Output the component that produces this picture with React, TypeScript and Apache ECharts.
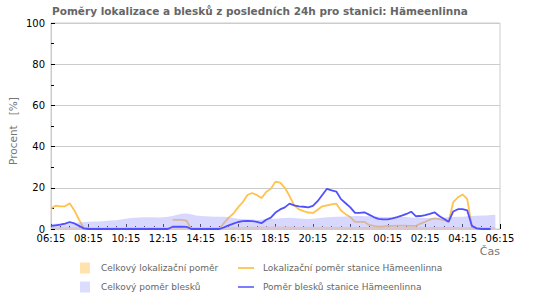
import React, { useEffect, useRef } from "react";
import * as echarts from "echarts";

const FONT = "DejaVu Sans";
const TITLE = "Poměry lokalizace a blesků z posledních 24h pro stanici: Hämeenlinna";

// hours after 06:15, one point every 15 minutes (06:15 ... 06:15 next day)
const STEP_H = 0.25;
const X_TICK_LABELS = ["06:15", "08:15", "10:15", "12:15", "14:15", "16:15", "18:15", "20:15", "22:15", "00:15", "02:15", "04:15", "06:15"];
const Y_TICKS = [0, 20, 40, 60, 80, 100];

const SERIES_NAMES = [
  "Celkový lokalizační poměr",
  "Lokalizační poměr stanice Hämeenlinna",
  "Celkový poměr blesků",
  "Poměr blesků stanice Hämeenlinna",
];

// Celkový lokalizační poměr (total localization ratio)
const totalLoc: (number | null)[] = [
  0.9, 0.9, 0.9, 0.9, 0.9, 0.9, 0.9, 0.9, 0.9, 0.9, 0.9, 0.9, 0.9, 0.9, 0.9, 0.9,
  1.0, 1.0, 1.0, 1.0, 1.0, 1.0, 1.0, 1.0, 1.0, 1.0, 1.1, 1.1, 1.1, 1.1, 1.0, 1.0,
  1.0, 1.0, 1.0, 1.0, 1.0, 1.1, 1.1, 1.1, 1.1, 1.1, 1.1, 1.1, 1.1, 1.2, 1.2, 1.2,
  1.2, 1.2, 1.2, 1.2, 1.1, 1.1, 1.1, 1.1, 1.1, 1.1, 1.1, 1.1, 1.1, 1.1, 1.1, 1.1,
  1.1, 1.0, 1.0, 1.0, 1.0, 1.0, 1.0, 1.0, 1.0, 1.0, 1.0, 1.0, 1.0, 1.0, 1.0, 1.0,
  1.0, 1.0, 1.0, 1.0, 1.0, 1.0, 1.0, 1.0, 1.0, 1.0, 1.0, 1.0, 1.0, 1.0, 1.0, 1.0, null,
];

// Lokalizační poměr stanice Hämeenlinna (station localization ratio)
const stationLoc: (number | null)[] = [
  10, 11.3, 11, 11, 12.5, 9, 4.5, 0.5, 0,
  null, null, null, null, null, null, null, null, null, null, null, null, null, null, null, null, null,
  4.4, 4.4, 4.4, 4.0, 0, 0, 0, 0, 0, 0, 0,
  3, 5.5, 7.5, 10.5, 13, 16.5, 17.5, 16.5, 15, 18, 19.5, 23, 22.5, 20, 16, 11.5,
  9.5, 8.7, 8, 7.8, 9.3, 11, 11.5, 12, 12.3, 9, 7.2, 5.8, 3.5, 3.5, 3.5, 2,
  1.5, 1.1, 1.3, 1.5, 1.5, 1.6, 1.6, 1.6, 1.5, 1.5, 2.6, 3.5, 4.5, 5.2, 4.8, 4.3,
  3.5, 13, 15.4, 16.8, 14.5, 1, 0.3, 0, 0, 0, null, null,
];

// Celkový poměr blesků (total lightning ratio)
const totalLightning: (number | null)[] = [
  2.4, 2.5, 2.7, 2.9, 3.0, 3.1, 3.2, 3.4, 3.5, 3.6, 3.7, 3.8, 4.0, 4.1, 4.3, 4.6,
  5.0, 5.3, 5.5, 5.6, 5.7, 5.7, 5.7, 5.6, 5.7, 5.9, 6.3, 6.9, 7.4, 7.5, 7.1, 6.6,
  6.3, 6.2, 6.1, 6.0, 6.0, 5.9, 5.7, 5.3, 5.0, 4.8, 4.7, 4.6, 4.4, 4.5, 4.7, 4.9,
  5.0, 5.2, 5.3, 5.5, 5.4, 5.1, 5.0, 4.9, 5.0, 5.2, 5.5, 5.7, 5.8, 6.0, 6.0, 6.1,
  6.2, 6.3, 6.3, 6.2, 6.2, 6.0, 5.9, 5.8, 5.8, 5.7, 5.7, 5.8, 5.8, 5.6, 5.5, 5.4,
  5.3, 5.4, 5.5, 5.6, 5.6, 5.7, 5.8, 5.9, 6.0, 6.2, 6.3, 6.4, 6.5, 6.6, 6.8, 6.9, null,
];

// Poměr blesků stanice Hämeenlinna (station lightning ratio)
const stationLightning: (number | null)[] = [
  1.5, 1.8, 2.1, 2.6, 3.4, 2.7, 1.5, 0.3, 0,
  0, 0, 0, 0, 0, 0, 0, 0, 0, 0, 0, 0, 0, 0, 0, 0, 0,
  1.1, 1.1, 1.1, 1.0, 0, 0, 0, 0, 0, 0, 0,
  0.8, 1.8, 2.6, 3.4, 3.8, 3.9, 3.8, 3.5, 2.8, 4.5, 5.5, 8, 9.5, 10.5, 12.3, 11.5,
  11, 10.8, 10.5, 11.2, 13.5, 16.5, 19.5, 18.8, 18.2, 14.5, 12.5, 10.5, 7.8, 7.8, 8.1, 7,
  5.8, 4.9, 4.7, 4.7, 5.2, 5.8, 6.5, 7.3, 8.4, 6.2, 6.3, 6.7, 7.3, 8.1, 6.3, 5,
  3.5, 8.5, 9.6, 9.6, 9, 1.5, 0.3, 0, 0, 0, null, null,
];

const toPairs = (vals: (number | null)[]) => vals.map((v, i) => [i * STEP_H, v]);

export default function App() {
  const ref = useRef<HTMLDivElement>(null);
  useEffect(() => {
    if (!ref.current) return;
    const chart = echarts.init(ref.current, null, { renderer: "svg" });
    const legendText = { fontFamily: FONT, fontSize: 9, color: "#666", lineHeight: 12 };
    chart.setOption({
      animation: false,
      backgroundColor: "#fff",
      textStyle: { fontFamily: FONT },
      title: {
        text: TITLE,
        left: 52,
        top: 5,
        padding: 0,
        textStyle: { fontFamily: FONT, fontSize: 10.5, fontWeight: "bold", color: "#666" },
      },
      grid: {
        left: 51,
        right: 50,
        top: 23,
        bottom: 71,
        show: true,
        borderColor: "#cccccc",
        borderWidth: 1,
        containLabel: false,
        outerBoundsMode: "none",
      },
      legend: [
        {
          orient: "vertical",
          left: 80,
          top: 262,
          padding: 0,
          itemWidth: 10,
          itemHeight: 11,
          itemGap: 7,
          icon: "rect",
          data: [
            { name: SERIES_NAMES[0], itemStyle: { color: "#ffe2ae" } },
            { name: SERIES_NAMES[2], itemStyle: { color: "#dcdcff" } },
          ],
          textStyle: { ...legendText, padding: [0, 0, 0, 6] },
          selectedMode: false,
        },
        {
          orient: "vertical",
          left: 238,
          top: 262,
          padding: 0,
          itemWidth: 16,
          itemHeight: 2,
          itemGap: 7,
          icon: "rect",
          data: [
            { name: SERIES_NAMES[1], itemStyle: { color: "#ffc861" } },
            { name: SERIES_NAMES[3], itemStyle: { color: "#7c7cff" } },
          ],
          textStyle: { ...legendText, padding: [0, 0, 0, 4] },
          selectedMode: false,
        },
      ],
      xAxis: {
        type: "value",
        min: 0,
        max: 24,
        interval: 2,
        axisLine: { show: true, onZero: false, lineStyle: { color: "#cccccc" } },
        axisTick: { show: true, inside: true, length: 5, lineStyle: { color: "#000" } },
        minorTick: { show: true, splitNumber: 4, length: 3, lineStyle: { color: "#000" } },
        splitLine: { show: false },
        axisLabel: {
          color: "#000",
          fontFamily: FONT,
          fontSize: 10,
          margin: 4,
          formatter: (v: number) => X_TICK_LABELS[Math.round(v / 2)] ?? "",
        },
      },
      yAxis: {
        type: "value",
        min: Y_TICKS[0],
        max: Y_TICKS[Y_TICKS.length - 1],
        interval: 20,
        axisLine: { show: true, lineStyle: { color: "#cccccc" } },
        axisTick: { show: true, inside: true, length: 4, lineStyle: { color: "#000" } },
        minorTick: { show: true, splitNumber: 2, length: 3, lineStyle: { color: "#000" } },
        splitLine: { show: true, lineStyle: { color: "#cccccc" } },
        axisLabel: { color: "#000", fontFamily: FONT, fontSize: 10, margin: 6 },
      },
      graphic: [
        {
          type: "text",
          x: 13,
          y: 131,
          rotation: Math.PI / 2,
          style: {
            text: "Procent   [%]",
            fontFamily: FONT,
            fontSize: 10.5,
            fill: "#777",
            align: "center",
            verticalAlign: "middle",
          },
        },
        {
          type: "text",
          x: 500,
          y: 251,
          style: {
            text: "Čas",
            fontFamily: FONT,
            fontSize: 11,
            fill: "#777",
            align: "right",
            verticalAlign: "middle",
          },
        },
      ],
      series: [
        {
          name: SERIES_NAMES[0],
          type: "line",
          data: toPairs(totalLoc),
          symbol: "none",
          itemStyle: { color: "#ffe2ae" },
          lineStyle: { width: 0, color: "#ffe2ae" },
          areaStyle: { color: "#ffe0a8", opacity: 1 },
          z: 1,
        },
        {
          name: SERIES_NAMES[1],
          type: "line",
          data: toPairs(stationLoc),
          symbol: "none",
          itemStyle: { color: "#ffc24f" },
          lineStyle: { width: 1.8, color: "#ffc24f" },
          z: 2,
        },
        {
          name: SERIES_NAMES[2],
          type: "line",
          data: toPairs(totalLightning),
          symbol: "none",
          itemStyle: { color: "#dcdcff" },
          lineStyle: { width: 0, color: "#dcdcff" },
          areaStyle: { color: "rgba(168,168,255,0.45)", opacity: 1 },
          z: 3,
        },
        {
          name: SERIES_NAMES[3],
          type: "line",
          data: toPairs(stationLightning),
          symbol: "none",
          itemStyle: { color: "#5050ff" },
          lineStyle: { width: 1.8, color: "#5050ff" },
          z: 4,
        },
      ],
    });
    return () => chart.dispose();
  }, []);
  return <div ref={ref} style={{ width: 550, height: 300, position: "absolute", left: 0, top: 0 }} />;
}
